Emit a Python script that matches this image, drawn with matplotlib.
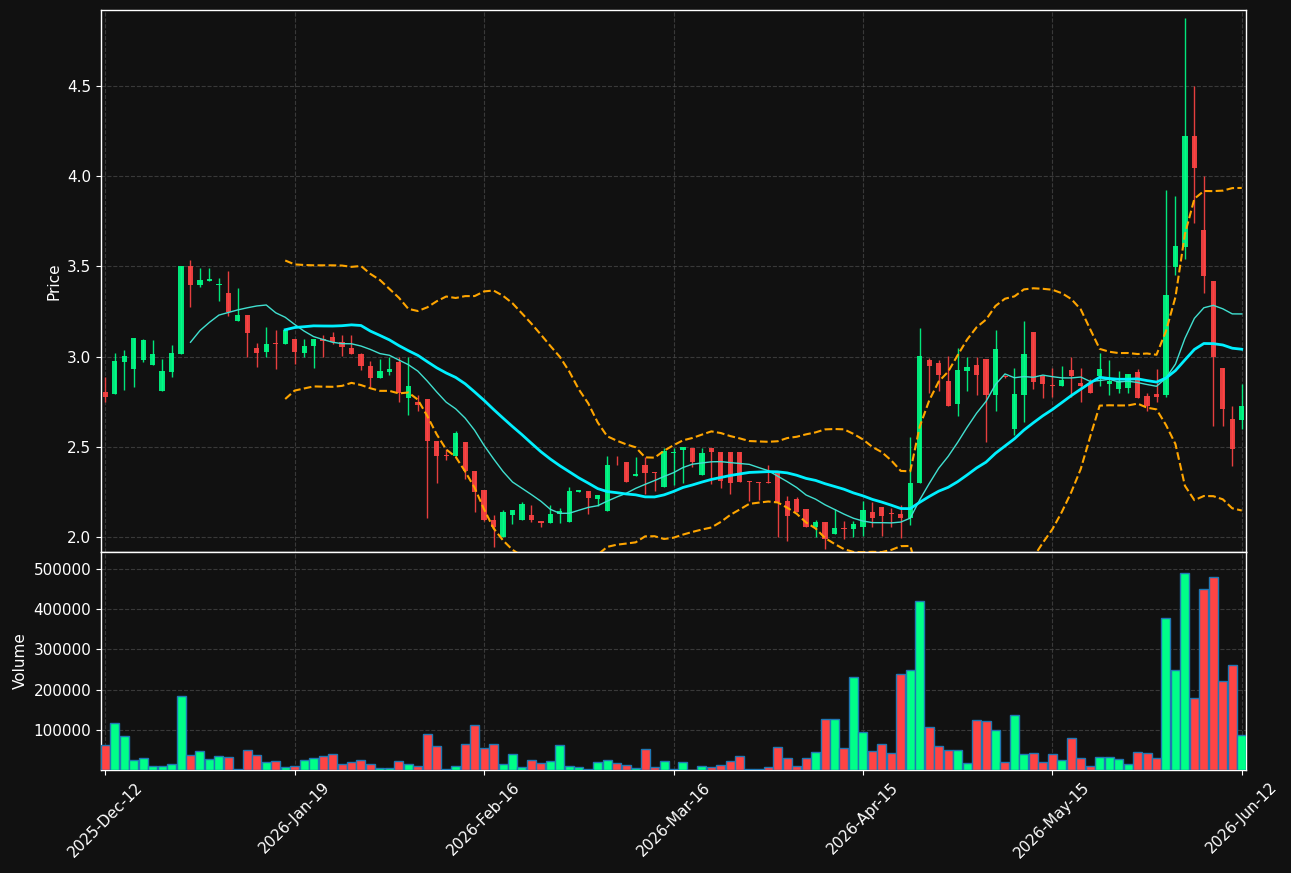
import numpy as np
import pandas as pd
import matplotlib
matplotlib.use("Agg")
import matplotlib.pyplot as plt

tick_labels = ["2025-Dec-12", "2026-Jan-19", "2026-Feb-16", "2026-Mar-16",
               "2026-Apr-15", "2026-May-15", "2026-Jun-12"]
tick_index = [0, 20, 40, 60, 80, 100, 120]

opens = [2.804, 2.795, 2.971, 2.932, 2.982, 2.954, 2.811, 2.916, 3.015, 3.502,
         3.397, 3.419, 3.399, 3.353, 3.196, 3.233, 3.049, 3.024, 3.074, 3.068,
         3.100, 3.018, 3.057, 3.098, 3.111, 3.081, 3.050, 3.017, 2.950, 2.880,
         2.917, 2.972, 2.769, 2.750, 2.767, 2.534, 2.451, 2.447, 2.529, 2.368,
         2.258, 2.093, 1.998, 2.123, 2.097, 2.121, 2.088, 2.079, 2.128, 2.084,
         2.249, 2.253, 2.211, 2.145, 2.412, 2.418, 2.337, 2.401, 2.358, 2.277,
         2.466, 2.485, 2.496, 2.341, 2.496, 2.469, 2.469, 2.469, 2.310, 2.304,
         2.304, 2.359, 2.198, 2.209, 2.158, 2.053, 2.082, 2.016, 2.050, 2.046,
         2.056, 2.141, 2.169, 2.130, 2.128, 2.104, 2.299, 2.982, 2.962, 2.862,
         2.735, 2.918, 2.951, 2.984, 2.785, 2.890, 2.598, 2.785, 3.134, 2.890,
         2.840, 2.836, 2.923, 2.851, 2.851, 2.891, 2.847, 2.818, 2.825, 2.912,
         2.779, 2.792, 2.786, 3.499, 3.610, 4.221, 3.702, 3.420, 2.939, 2.652,
         2.646]
highs = [2.888, 3.022, 3.035, 3.101, 3.099, 3.090, 2.984, 3.066, 3.502, 3.538,
         3.489, 3.489, 3.434, 3.474, 3.381, 3.233, 3.077, 3.165, 3.148, 3.150,
         3.100, 3.098, 3.098, 3.120, 3.139, 3.120, 3.120, 3.020, 2.974, 2.987,
         2.996, 3.000, 3.000, 2.787, 2.767, 2.534, 2.488, 2.588, 2.529, 2.368,
         2.258, 2.121, 2.148, 2.148, 2.192, 2.179, 2.088, 2.179, 2.163, 2.277,
         2.258, 2.253, 2.231, 2.451, 2.451, 2.418, 2.445, 2.445, 2.358, 2.496,
         2.496, 2.500, 2.496, 2.496, 2.496, 2.469, 2.469, 2.469, 2.310, 2.304,
         2.401, 2.359, 2.227, 2.220, 2.158, 2.097, 2.082, 2.154, 2.090, 2.090,
         2.198, 2.193, 2.169, 2.162, 2.180, 2.552, 3.160, 2.994, 2.982, 3.001,
         3.047, 2.997, 2.997, 2.984, 3.145, 2.897, 2.938, 3.197, 3.134, 2.890,
         2.935, 2.947, 2.996, 2.937, 2.878, 3.020, 2.982, 2.921, 2.901, 2.932,
         2.797, 2.932, 3.921, 3.888, 4.878, 4.501, 4.000, 3.420, 2.939, 2.727,
         2.849]
lows = [2.751, 2.795, 2.813, 2.833, 2.971, 2.954, 2.811, 2.885, 3.015, 3.273,
        3.388, 3.419, 3.310, 3.227, 3.196, 2.998, 2.940, 3.000, 2.934, 3.068,
        2.959, 3.000, 2.935, 2.996, 3.070, 3.002, 3.013, 2.926, 2.830, 2.880,
        2.898, 2.749, 2.677, 2.697, 2.105, 2.299, 2.427, 2.447, 2.322, 2.137,
        2.090, 1.947, 1.998, 2.071, 2.097, 2.086, 2.057, 2.075, 2.075, 2.084,
        2.249, 2.130, 2.170, 2.145, 2.399, 2.304, 2.337, 2.240, 2.255, 2.277,
        2.286, 2.300, 2.386, 2.341, 2.295, 2.273, 2.240, 2.304, 2.200, 2.203,
        2.300, 1.998, 1.980, 2.139, 2.057, 1.998, 1.936, 2.016, 1.991, 2.002,
        2.007, 2.055, 2.006, 2.055, 1.995, 2.067, 2.299, 2.799, 2.809, 2.726,
        2.670, 2.809, 2.787, 2.526, 2.698, 2.880, 2.563, 2.637, 2.820, 2.772,
        2.775, 2.836, 2.775, 2.751, 2.797, 2.836, 2.788, 2.799, 2.797, 2.770,
        2.700, 2.748, 2.775, 3.451, 3.540, 3.738, 3.352, 2.617, 2.617, 2.392,
        2.599]
closes = [2.778, 2.974, 3.002, 3.101, 3.090, 3.013, 2.919, 3.018, 3.502, 3.399,
          3.425, 3.430, 3.403, 3.247, 3.233, 3.130, 3.020, 3.071, 3.070, 3.150,
          3.028, 3.061, 3.098, 3.085, 3.083, 3.052, 3.013, 2.946, 2.880, 2.922,
          2.933, 2.799, 2.839, 2.730, 2.530, 2.447, 2.447, 2.579, 2.364, 2.248,
          2.093, 2.057, 2.137, 2.148, 2.181, 2.097, 2.079, 2.130, 2.143, 2.253,
          2.258, 2.216, 2.231, 2.401, 2.408, 2.304, 2.352, 2.353, 2.354, 2.478,
          2.470, 2.500, 2.418, 2.467, 2.473, 2.313, 2.299, 2.304, 2.306, 2.300,
          2.300, 2.194, 2.117, 2.139, 2.057, 2.082, 1.987, 2.048, 2.046, 2.070,
          2.148, 2.104, 2.114, 2.127, 2.103, 2.302, 3.001, 2.947, 2.896, 2.726,
          2.923, 2.940, 2.896, 2.785, 3.040, 2.885, 2.790, 3.012, 2.857, 2.846,
          2.837, 2.873, 2.891, 2.836, 2.797, 2.934, 2.862, 2.862, 2.901, 2.770,
          2.727, 2.775, 3.343, 3.613, 4.221, 4.046, 3.449, 2.996, 2.709, 2.488,
          2.724]
volumes = [62000, 117000, 84000, 24500, 29500, 9500, 9500, 14500, 184000, 37000,
           47000, 27000, 34500, 32000, 2000, 49500, 37000, 19500, 22000, 7000,
           9500, 24500, 29500, 34500, 39500, 14500, 19500, 24500, 14500, 4500,
           4500, 22000, 14500, 9500, 89000, 59000, 2000, 9500, 64000, 112000,
           54500, 64000, 14500, 39500, 7000, 24500, 17000, 22000, 62000, 9500,
           7000, 2000, 19500, 24500, 17000, 12000, 4500, 52000, 7000, 22000,
           1500, 19500, 500, 9500, 7000, 12000, 22000, 34500, 1500, 1500,
           7000, 57000, 29500, 9500, 29500, 44500, 126500, 126500, 54500, 231000,
           94000, 47000, 64000, 42000, 238500, 248500, 420000, 106500, 59500, 49500,
           49500, 17000, 124000, 121500, 99000, 19500, 136500, 39500, 42000, 19500,
           39500, 24500, 79500, 29500, 9500, 32000, 32000, 27000, 14500, 44500,
           42000, 29500, 378000, 248500, 490000, 179000, 450000, 480000, 221000, 261000,
           87000]

BG = "#111111"
UP = "#00ff88"
DOWN = "#ff4444"

n = len(closes)
x = np.arange(n)
o = np.array(opens); h = np.array(highs); l = np.array(lows); c = np.array(closes)
v = np.array(volumes)
up = c >= o
cols = np.where(up, UP, DOWN)

cs = pd.Series(c)
ma10 = cs.rolling(10).mean()
ma20 = cs.rolling(20).mean()
sd20 = cs.rolling(20).std(ddof=0)
upper = ma20 + 2 * sd20
lower = ma20 - 2 * sd20

W, H = 1291, 873
fig = plt.figure(figsize=(W / 100, H / 100), dpi=100, facecolor=BG)
ax = fig.add_axes([101 / W, 1 - 552 / H, (1246 - 101) / W, (552 - 10) / H])
axv = fig.add_axes([101 / W, 1 - 770 / H, (1246 - 101) / W, (770 - 552) / H], sharex=ax)

for a in (ax, axv):
    a.set_facecolor(BG)
    for s in a.spines.values():
        s.set_color("white")
        s.set_linewidth(1.0)
    a.grid(True, color="#444444", linestyle="--", linewidth=0.8, alpha=0.8)
    a.set_axisbelow(True)
    a.tick_params(colors="white", labelsize=11)

# candles
ax.vlines(x, l, h, colors=cols, linewidth=1.0, alpha=0.9, zorder=2)
body_bottom = np.minimum(o, c)
body_h = np.maximum(np.abs(c - o), 0.005)
ax.bar(x, body_h, bottom=body_bottom, width=0.55, color=cols, alpha=0.9,
       linewidth=0, zorder=3)

# moving averages and bands
ax.plot(x, ma10, color="#40e0d0", linewidth=1.0, zorder=4)
ax.plot(x, ma20, color="#00f0ff", linewidth=2.0, zorder=4)
ax.plot(x, upper, color="#ffa500", linestyle="--", linewidth=1.5, zorder=4)
ax.plot(x, lower, color="#ffa500", linestyle="--", linewidth=1.5, zorder=4)

ax.set_ylim(1.917, 4.921)
ax.set_yticks([2.0, 2.5, 3.0, 3.5, 4.0, 4.5])
ax.set_ylabel("Price", color="white", fontsize=11)
ax.tick_params(axis="x", length=0, labelbottom=False)

# volume
axv.bar(x, v, width=0.95, color=cols, edgecolor="#1f77b4", linewidth=1.0, zorder=3)
axv.set_ylim(0, 542000)
axv.set_yticks([100000, 200000, 300000, 400000, 500000])
axv.set_yticklabels([str(t) for t in [100000, 200000, 300000, 400000, 500000]])
axv.set_ylabel("Volume", color="white", fontsize=11)
axv.set_xlim(-0.45, 120.45)
axv.set_xticks(tick_index)
axv.set_xticklabels(tick_labels, rotation=45, ha="center")

fig.savefig("out.png", dpi=100, facecolor=BG)
